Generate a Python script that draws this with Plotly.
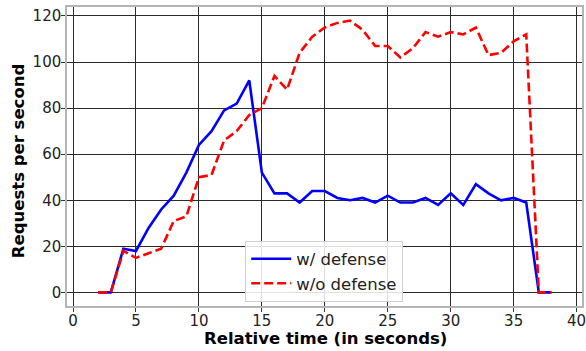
import plotly.graph_objects as go

time_s = list(range(2, 39))
with_defense = [0, 0, 19, 18, 28, 36, 42, 52, 64, 70, 79, 82, 92, 52, 43, 43, 39, 44, 44,
                41, 40, 41, 39, 42, 39, 39, 41, 38, 43, 38, 47, 43, 40, 41, 39, 0, 0]
without_defense = [0, 0, 18, 15, 17, 19, 31, 33, 50, 51, 66, 70, 77, 80, 94, 88, 104, 111, 115,
                   117, 118, 114, 107, 107, 102, 106, 113, 111, 113, 112, 115, 103, 104, 109, 112, 0, 0]
x_ticks = [0, 5, 10, 15, 20, 25, 30, 35, 40]
y_ticks = [0, 20, 40, 60, 80, 100, 120]

fig = go.Figure()
fig.add_trace(go.Scatter(x=time_s, y=with_defense, mode="lines", name="w/ defense",
                         line=dict(color="#0000ff", width=2.6)))
fig.add_trace(go.Scatter(x=time_s, y=without_defense, mode="lines", name="w/o defense",
                         line=dict(color="#ff0000", width=2.6, dash="9px,4px")))

font = "DejaVu Sans"
axis_common = dict(
    showgrid=True, gridcolor="#2a2a2a", gridwidth=1,
    showline=True, linecolor="#b5b5b5", linewidth=1.5, mirror=True,
    ticks="outside", ticklen=4, tickcolor="#333", tickwidth=1,
    tickfont=dict(family=font, size=15, color="#222"),
    zeroline=False, automargin=False, ticklabeloverflow="allow",
)
fig.update_layout(
    width=586, height=351,
    margin=dict(l=67, r=4, t=7, b=45, autoexpand=False),
    paper_bgcolor="white", plot_bgcolor="white",
    xaxis=dict(range=[-0.48, 40.43], tickvals=x_ticks, ticklabelstandoff=-4, **axis_common),
    yaxis=dict(range=[-5.9, 123.9], tickvals=y_ticks, ticklabelstandoff=-3, **axis_common),
    legend=dict(x=0.346, y=0.117, xanchor="left", yanchor="middle",
                bgcolor="rgba(255,255,255,0.85)", bordercolor="#d0d0d0", borderwidth=1,
                itemwidth=40,
                font=dict(family=font, size=16.5, color="#222"), tracegroupgap=0),
    showlegend=True,
    annotations=[
        dict(text="<b>Relative time (in seconds)</b>", xref="paper", yref="paper",
             x=0.501, y=-0.1086, xanchor="center", yanchor="middle", showarrow=False,
             font=dict(family=font, size=16.5, color="black")),
        dict(text="<b>Requests per second</b>", xref="paper", yref="paper",
             x=-0.095, y=0.4845, xanchor="center", yanchor="middle", showarrow=False,
             textangle=-90, font=dict(family=font, size=16.5, color="black")),
    ],
)
fig.write_html("out.html", config={"displayModeBar": False},
               post_script="document.body.style.margin='0';document.body.style.padding='0';")
